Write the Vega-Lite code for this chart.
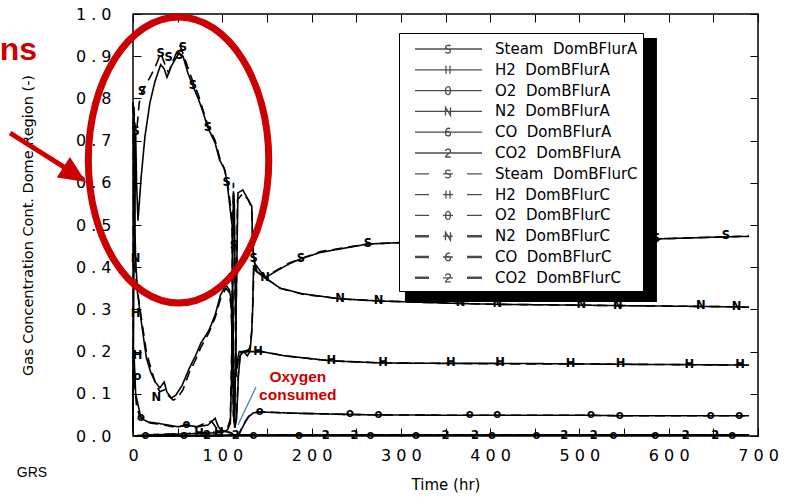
{
"$schema":"https://vega.github.io/schema/vega-lite/v6.json",
"width":625,"height":422,
"autosize":{"type":"none"},
"padding":{"left":133,"top":14,"right":32,"bottom":61},
"background":"white",
"config":{"view":{"stroke":"black","strokeWidth":1.5},
 "axis":{"domain":false,"grid":false,"tickColor":"black","tickSize":-8,"tickWidth":1,"labelColor":"black","labelFont":"DejaVu Sans","labelFontSize":16,"titleFont":"DejaVu Sans","titleFontWeight":"normal","titleColor":"black","labelFlush":false,"labelOverlap":false,"labelBound":false}},
"datasets":{
"lines":[
{"g":"Steam","c":"A","t":0,"v":0.01},{"g":"Steam","c":"A","t":1,"v":0.42},{"g":"Steam","c":"A","t":2,"v":0.5},{"g":"Steam","c":"A","t":3,"v":0.72},{"g":"Steam","c":"A","t":4,"v":0.6},{"g":"Steam","c":"A","t":5.6,"v":0.51},{"g":"Steam","c":"A","t":9,"v":0.61},{"g":"Steam","c":"A","t":13.4,"v":0.71},{"g":"Steam","c":"A","t":19,"v":0.79},{"g":"Steam","c":"A","t":24.6,"v":0.84},{"g":"Steam","c":"A","t":31,"v":0.88},{"g":"Steam","c":"A","t":35,"v":0.87},{"g":"Steam","c":"A","t":38,"v":0.85},{"g":"Steam","c":"A","t":42.5,"v":0.875},{"g":"Steam","c":"A","t":48,"v":0.895},{"g":"Steam","c":"A","t":51.5,"v":0.908},{"g":"Steam","c":"A","t":56,"v":0.9},{"g":"Steam","c":"A","t":61.5,"v":0.86},{"g":"Steam","c":"A","t":67,"v":0.83},{"g":"Steam","c":"A","t":73,"v":0.8},{"g":"Steam","c":"A","t":78,"v":0.77},{"g":"Steam","c":"A","t":84,"v":0.73},{"g":"Steam","c":"A","t":92,"v":0.694},{"g":"Steam","c":"A","t":97,"v":0.654},{"g":"Steam","c":"A","t":103,"v":0.63},{"g":"Steam","c":"A","t":106,"v":0.59},{"g":"Steam","c":"A","t":108.5,"v":0.543},{"g":"Steam","c":"A","t":111,"v":0.5},{"g":"Steam","c":"A","t":112,"v":0.3},{"g":"Steam","c":"A","t":113,"v":0.06},{"g":"Steam","c":"A","t":114,"v":0.03},{"g":"Steam","c":"A","t":115.5,"v":0.3},{"g":"Steam","c":"A","t":117.5,"v":0.576},{"g":"Steam","c":"A","t":123,"v":0.583},{"g":"Steam","c":"A","t":129,"v":0.56},{"g":"Steam","c":"A","t":133,"v":0.545},{"g":"Steam","c":"A","t":134,"v":0.45},{"g":"Steam","c":"A","t":136,"v":0.41},{"g":"Steam","c":"A","t":148,"v":0.375},{"g":"Steam","c":"A","t":160,"v":0.39},{"g":"Steam","c":"A","t":175,"v":0.408},{"g":"Steam","c":"A","t":188,"v":0.42},{"g":"Steam","c":"A","t":210,"v":0.435},{"g":"Steam","c":"A","t":263,"v":0.455},{"g":"Steam","c":"A","t":320,"v":0.46},{"g":"Steam","c":"A","t":400,"v":0.463},{"g":"Steam","c":"A","t":500,"v":0.466},{"g":"Steam","c":"A","t":586,"v":0.467},{"g":"Steam","c":"A","t":664,"v":0.472},{"g":"Steam","c":"A","t":690,"v":0.473},
{"g":"Steam","c":"C","t":0,"v":0.02},{"g":"Steam","c":"C","t":1,"v":0.78},{"g":"Steam","c":"C","t":2,"v":0.74},{"g":"Steam","c":"C","t":4,"v":0.72},{"g":"Steam","c":"C","t":7,"v":0.79},{"g":"Steam","c":"C","t":10,"v":0.815},{"g":"Steam","c":"C","t":14,"v":0.83},{"g":"Steam","c":"C","t":19,"v":0.85},{"g":"Steam","c":"C","t":25,"v":0.875},{"g":"Steam","c":"C","t":31,"v":0.907},{"g":"Steam","c":"C","t":36,"v":0.88},{"g":"Steam","c":"C","t":40,"v":0.86},{"g":"Steam","c":"C","t":45,"v":0.89},{"g":"Steam","c":"C","t":50,"v":0.915},{"g":"Steam","c":"C","t":53,"v":0.925},{"g":"Steam","c":"C","t":57,"v":0.9},{"g":"Steam","c":"C","t":62,"v":0.87},{"g":"Steam","c":"C","t":67,"v":0.84},{"g":"Steam","c":"C","t":73,"v":0.81},{"g":"Steam","c":"C","t":78,"v":0.775},{"g":"Steam","c":"C","t":84,"v":0.735},{"g":"Steam","c":"C","t":92,"v":0.7},{"g":"Steam","c":"C","t":97,"v":0.66},{"g":"Steam","c":"C","t":102,"v":0.635},{"g":"Steam","c":"C","t":106,"v":0.6},{"g":"Steam","c":"C","t":109,"v":0.55},{"g":"Steam","c":"C","t":111,"v":0.5},{"g":"Steam","c":"C","t":112.5,"v":0.2},{"g":"Steam","c":"C","t":113.5,"v":0.03},{"g":"Steam","c":"C","t":115,"v":0.2},{"g":"Steam","c":"C","t":117,"v":0.56},{"g":"Steam","c":"C","t":123,"v":0.575},{"g":"Steam","c":"C","t":129,"v":0.56},{"g":"Steam","c":"C","t":133,"v":0.54},{"g":"Steam","c":"C","t":134.5,"v":0.44},{"g":"Steam","c":"C","t":137,"v":0.4},{"g":"Steam","c":"C","t":148,"v":0.375},{"g":"Steam","c":"C","t":160,"v":0.392},{"g":"Steam","c":"C","t":175,"v":0.41},{"g":"Steam","c":"C","t":188,"v":0.42},{"g":"Steam","c":"C","t":210,"v":0.437},{"g":"Steam","c":"C","t":263,"v":0.455},{"g":"Steam","c":"C","t":320,"v":0.46},{"g":"Steam","c":"C","t":400,"v":0.463},{"g":"Steam","c":"C","t":500,"v":0.466},{"g":"Steam","c":"C","t":586,"v":0.467},{"g":"Steam","c":"C","t":664,"v":0.472},{"g":"Steam","c":"C","t":690,"v":0.474},
{"g":"N2","c":"A","t":0,"v":0.79},{"g":"N2","c":"A","t":1,"v":0.77},{"g":"N2","c":"A","t":2,"v":0.5},{"g":"N2","c":"A","t":3,"v":0.42},{"g":"N2","c":"A","t":5,"v":0.34},{"g":"N2","c":"A","t":10,"v":0.26},{"g":"N2","c":"A","t":15,"v":0.185},{"g":"N2","c":"A","t":20,"v":0.15},{"g":"N2","c":"A","t":25,"v":0.128},{"g":"N2","c":"A","t":30,"v":0.114},{"g":"N2","c":"A","t":35,"v":0.128},{"g":"N2","c":"A","t":38,"v":0.104},{"g":"N2","c":"A","t":43,"v":0.09},{"g":"N2","c":"A","t":48,"v":0.097},{"g":"N2","c":"A","t":55,"v":0.12},{"g":"N2","c":"A","t":63,"v":0.16},{"g":"N2","c":"A","t":70,"v":0.19},{"g":"N2","c":"A","t":76,"v":0.22},{"g":"N2","c":"A","t":85,"v":0.25},{"g":"N2","c":"A","t":92,"v":0.287},{"g":"N2","c":"A","t":98,"v":0.334},{"g":"N2","c":"A","t":104,"v":0.358},{"g":"N2","c":"A","t":108,"v":0.346},{"g":"N2","c":"A","t":110,"v":0.32},{"g":"N2","c":"A","t":111.5,"v":0.2},{"g":"N2","c":"A","t":112.5,"v":0.05},{"g":"N2","c":"A","t":114,"v":0.02},{"g":"N2","c":"A","t":116,"v":0.04},{"g":"N2","c":"A","t":118,"v":0.14},{"g":"N2","c":"A","t":120,"v":0.19},{"g":"N2","c":"A","t":124,"v":0.2},{"g":"N2","c":"A","t":128,"v":0.19},{"g":"N2","c":"A","t":131,"v":0.2},{"g":"N2","c":"A","t":133,"v":0.246},{"g":"N2","c":"A","t":134,"v":0.3},{"g":"N2","c":"A","t":135,"v":0.4},{"g":"N2","c":"A","t":138,"v":0.39},{"g":"N2","c":"A","t":148,"v":0.375},{"g":"N2","c":"A","t":165,"v":0.35},{"g":"N2","c":"A","t":190,"v":0.337},{"g":"N2","c":"A","t":232,"v":0.325},{"g":"N2","c":"A","t":275,"v":0.32},{"g":"N2","c":"A","t":367,"v":0.314},{"g":"N2","c":"A","t":408,"v":0.312},{"g":"N2","c":"A","t":502,"v":0.31},{"g":"N2","c":"A","t":543,"v":0.309},{"g":"N2","c":"A","t":636,"v":0.307},{"g":"N2","c":"A","t":676,"v":0.306},{"g":"N2","c":"A","t":690,"v":0.305},
{"g":"N2","c":"C","t":0,"v":0.79},{"g":"N2","c":"C","t":1,"v":0.55},{"g":"N2","c":"C","t":2,"v":0.4},{"g":"N2","c":"C","t":4,"v":0.36},{"g":"N2","c":"C","t":6,"v":0.33},{"g":"N2","c":"C","t":10,"v":0.27},{"g":"N2","c":"C","t":15,"v":0.2},{"g":"N2","c":"C","t":20,"v":0.16},{"g":"N2","c":"C","t":26,"v":0.12},{"g":"N2","c":"C","t":30,"v":0.105},{"g":"N2","c":"C","t":36,"v":0.11},{"g":"N2","c":"C","t":40,"v":0.095},{"g":"N2","c":"C","t":45,"v":0.085},{"g":"N2","c":"C","t":50,"v":0.09},{"g":"N2","c":"C","t":56,"v":0.11},{"g":"N2","c":"C","t":63,"v":0.15},{"g":"N2","c":"C","t":70,"v":0.18},{"g":"N2","c":"C","t":76,"v":0.21},{"g":"N2","c":"C","t":85,"v":0.245},{"g":"N2","c":"C","t":92,"v":0.28},{"g":"N2","c":"C","t":98,"v":0.325},{"g":"N2","c":"C","t":104,"v":0.35},{"g":"N2","c":"C","t":108,"v":0.34},{"g":"N2","c":"C","t":110,"v":0.3},{"g":"N2","c":"C","t":111.5,"v":0.18},{"g":"N2","c":"C","t":112.5,"v":0.05},{"g":"N2","c":"C","t":114,"v":0.02},{"g":"N2","c":"C","t":116,"v":0.05},{"g":"N2","c":"C","t":118,"v":0.15},{"g":"N2","c":"C","t":120,"v":0.19},{"g":"N2","c":"C","t":124,"v":0.2},{"g":"N2","c":"C","t":128,"v":0.2},{"g":"N2","c":"C","t":131,"v":0.21},{"g":"N2","c":"C","t":133,"v":0.25},{"g":"N2","c":"C","t":134.5,"v":0.33},{"g":"N2","c":"C","t":135.5,"v":0.41},{"g":"N2","c":"C","t":139,"v":0.39},{"g":"N2","c":"C","t":148,"v":0.375},{"g":"N2","c":"C","t":165,"v":0.35},{"g":"N2","c":"C","t":190,"v":0.336},{"g":"N2","c":"C","t":232,"v":0.325},{"g":"N2","c":"C","t":275,"v":0.32},{"g":"N2","c":"C","t":367,"v":0.314},{"g":"N2","c":"C","t":408,"v":0.312},{"g":"N2","c":"C","t":502,"v":0.31},{"g":"N2","c":"C","t":543,"v":0.309},{"g":"N2","c":"C","t":636,"v":0.307},{"g":"N2","c":"C","t":676,"v":0.306},{"g":"N2","c":"C","t":690,"v":0.305},
{"g":"H2","c":"A","t":0,"v":0},{"g":"H2","c":"A","t":20,"v":0.003},{"g":"H2","c":"A","t":60,"v":0.005},{"g":"H2","c":"A","t":100,"v":0.008},{"g":"H2","c":"A","t":106,"v":0.015},{"g":"H2","c":"A","t":109,"v":0.03},{"g":"H2","c":"A","t":110.5,"v":0.15},{"g":"H2","c":"A","t":111.5,"v":0.4},{"g":"H2","c":"A","t":112.5,"v":0.58},{"g":"H2","c":"A","t":113.5,"v":0.55},{"g":"H2","c":"A","t":114.5,"v":0.35},{"g":"H2","c":"A","t":115.5,"v":0.15},{"g":"H2","c":"A","t":117,"v":0.18},{"g":"H2","c":"A","t":119,"v":0.2},{"g":"H2","c":"A","t":124,"v":0.2},{"g":"H2","c":"A","t":130,"v":0.2},{"g":"H2","c":"A","t":136,"v":0.2},{"g":"H2","c":"A","t":144,"v":0.2},{"g":"H2","c":"A","t":170,"v":0.19},{"g":"H2","c":"A","t":222,"v":0.178},{"g":"H2","c":"A","t":280,"v":0.173},{"g":"H2","c":"A","t":356,"v":0.172},{"g":"H2","c":"A","t":411,"v":0.172},{"g":"H2","c":"A","t":490,"v":0.171},{"g":"H2","c":"A","t":546,"v":0.17},{"g":"H2","c":"A","t":623,"v":0.169},{"g":"H2","c":"A","t":680,"v":0.168},{"g":"H2","c":"A","t":690,"v":0.168},
{"g":"H2","c":"C","t":0,"v":0},{"g":"H2","c":"C","t":20,"v":0.003},{"g":"H2","c":"C","t":60,"v":0.006},{"g":"H2","c":"C","t":100,"v":0.01},{"g":"H2","c":"C","t":106,"v":0.02},{"g":"H2","c":"C","t":109,"v":0.04},{"g":"H2","c":"C","t":110.5,"v":0.2},{"g":"H2","c":"C","t":111.5,"v":0.45},{"g":"H2","c":"C","t":112.5,"v":0.6},{"g":"H2","c":"C","t":113.5,"v":0.5},{"g":"H2","c":"C","t":114.5,"v":0.3},{"g":"H2","c":"C","t":115.5,"v":0.14},{"g":"H2","c":"C","t":117,"v":0.17},{"g":"H2","c":"C","t":119,"v":0.195},{"g":"H2","c":"C","t":124,"v":0.2},{"g":"H2","c":"C","t":130,"v":0.205},{"g":"H2","c":"C","t":136,"v":0.2},{"g":"H2","c":"C","t":144,"v":0.2},{"g":"H2","c":"C","t":170,"v":0.19},{"g":"H2","c":"C","t":222,"v":0.178},{"g":"H2","c":"C","t":280,"v":0.173},{"g":"H2","c":"C","t":356,"v":0.172},{"g":"H2","c":"C","t":411,"v":0.171},{"g":"H2","c":"C","t":490,"v":0.171},{"g":"H2","c":"C","t":546,"v":0.17},{"g":"H2","c":"C","t":623,"v":0.169},{"g":"H2","c":"C","t":680,"v":0.168},{"g":"H2","c":"C","t":690,"v":0.168},
{"g":"O2","c":"A","t":0,"v":0.21},{"g":"O2","c":"A","t":1,"v":0.2},{"g":"O2","c":"A","t":2,"v":0.15},{"g":"O2","c":"A","t":3,"v":0.1},{"g":"O2","c":"A","t":5,"v":0.08},{"g":"O2","c":"A","t":9,"v":0.042},{"g":"O2","c":"A","t":17,"v":0.033},{"g":"O2","c":"A","t":28,"v":0.03},{"g":"O2","c":"A","t":39,"v":0.026},{"g":"O2","c":"A","t":50,"v":0.022},{"g":"O2","c":"A","t":61,"v":0.025},{"g":"O2","c":"A","t":73,"v":0.022},{"g":"O2","c":"A","t":84,"v":0.026},{"g":"O2","c":"A","t":92,"v":0.042},{"g":"O2","c":"A","t":95,"v":0.025},{"g":"O2","c":"A","t":98,"v":0.015},{"g":"O2","c":"A","t":102,"v":0.012},{"g":"O2","c":"A","t":106,"v":0.01},{"g":"O2","c":"A","t":110,"v":0.008},{"g":"O2","c":"A","t":113,"v":0.002},{"g":"O2","c":"A","t":118,"v":0},{"g":"O2","c":"A","t":120,"v":0.01},{"g":"O2","c":"A","t":125,"v":0.03},{"g":"O2","c":"A","t":129,"v":0.045},{"g":"O2","c":"A","t":135,"v":0.055},{"g":"O2","c":"A","t":142,"v":0.057},{"g":"O2","c":"A","t":180,"v":0.054},{"g":"O2","c":"A","t":243,"v":0.051},{"g":"O2","c":"A","t":275,"v":0.05},{"g":"O2","c":"A","t":377,"v":0.049},{"g":"O2","c":"A","t":408,"v":0.049},{"g":"O2","c":"A","t":513,"v":0.049},{"g":"O2","c":"A","t":545,"v":0.048},{"g":"O2","c":"A","t":647,"v":0.048},{"g":"O2","c":"A","t":679,"v":0.048},{"g":"O2","c":"A","t":690,"v":0.048},
{"g":"O2","c":"C","t":0,"v":0.21},{"g":"O2","c":"C","t":1,"v":0.18},{"g":"O2","c":"C","t":2,"v":0.12},{"g":"O2","c":"C","t":4,"v":0.07},{"g":"O2","c":"C","t":7,"v":0.05},{"g":"O2","c":"C","t":12,"v":0.038},{"g":"O2","c":"C","t":20,"v":0.03},{"g":"O2","c":"C","t":30,"v":0.028},{"g":"O2","c":"C","t":40,"v":0.024},{"g":"O2","c":"C","t":50,"v":0.02},{"g":"O2","c":"C","t":60,"v":0.028},{"g":"O2","c":"C","t":70,"v":0.02},{"g":"O2","c":"C","t":80,"v":0.03},{"g":"O2","c":"C","t":88,"v":0.035},{"g":"O2","c":"C","t":93,"v":0.02},{"g":"O2","c":"C","t":100,"v":0.012},{"g":"O2","c":"C","t":105,"v":0.01},{"g":"O2","c":"C","t":110,"v":0.006},{"g":"O2","c":"C","t":113,"v":0.001},{"g":"O2","c":"C","t":118,"v":0},{"g":"O2","c":"C","t":121,"v":0.015},{"g":"O2","c":"C","t":126,"v":0.035},{"g":"O2","c":"C","t":131,"v":0.05},{"g":"O2","c":"C","t":138,"v":0.056},{"g":"O2","c":"C","t":145,"v":0.057},{"g":"O2","c":"C","t":180,"v":0.054},{"g":"O2","c":"C","t":243,"v":0.051},{"g":"O2","c":"C","t":275,"v":0.05},{"g":"O2","c":"C","t":377,"v":0.049},{"g":"O2","c":"C","t":408,"v":0.049},{"g":"O2","c":"C","t":513,"v":0.049},{"g":"O2","c":"C","t":545,"v":0.048},{"g":"O2","c":"C","t":647,"v":0.048},{"g":"O2","c":"C","t":679,"v":0.048},{"g":"O2","c":"C","t":690,"v":0.048},
{"g":"CO","c":"A","t":0,"v":0},{"g":"CO","c":"A","t":100,"v":0.001},{"g":"CO","c":"A","t":115,"v":0.003},{"g":"CO","c":"A","t":140,"v":0.002},{"g":"CO","c":"A","t":690,"v":0.002},
{"g":"CO","c":"C","t":0,"v":0},{"g":"CO","c":"C","t":100,"v":0.001},{"g":"CO","c":"C","t":115,"v":0.003},{"g":"CO","c":"C","t":140,"v":0.002},{"g":"CO","c":"C","t":690,"v":0.002},
{"g":"CO2","c":"A","t":0,"v":0},{"g":"CO2","c":"A","t":110,"v":0.002},{"g":"CO2","c":"A","t":690,"v":0.003},
{"g":"CO2","c":"C","t":0,"v":0},{"g":"CO2","c":"C","t":110,"v":0.002},{"g":"CO2","c":"C","t":690,"v":0.003}
],
"marks":[
{"g":"Steam","t":3,"v":0.72},{"g":"Steam","t":10,"v":0.815},{"g":"Steam","t":31,"v":0.905},{"g":"Steam","t":40,"v":0.895},{"g":"Steam","t":52,"v":0.9},{"g":"Steam","t":56,"v":0.92},{"g":"Steam","t":67,"v":0.83},{"g":"Steam","t":84,"v":0.73},{"g":"Steam","t":105,"v":0.6},{"g":"Steam","t":113,"v":0.45},{"g":"Steam","t":135,"v":0.42},{"g":"Steam","t":188,"v":0.42},{"g":"Steam","t":263,"v":0.455},{"g":"Steam","t":586,"v":0.467},{"g":"Steam","t":664,"v":0.473},
{"g":"N2","t":3,"v":0.42},{"g":"N2","t":26,"v":0.09},{"g":"N2","t":148,"v":0.375},{"g":"N2","t":232,"v":0.325},{"g":"N2","t":275,"v":0.32},{"g":"N2","t":367,"v":0.314},{"g":"N2","t":408,"v":0.312},{"g":"N2","t":502,"v":0.31},{"g":"N2","t":543,"v":0.309},{"g":"N2","t":636,"v":0.307},{"g":"N2","t":676,"v":0.306},
{"g":"H2","t":3,"v":0.29},{"g":"H2","t":5,"v":0.19},{"g":"H2","t":74,"v":0.005},{"g":"H2","t":96,"v":0.006},{"g":"H2","t":140,"v":0.2},{"g":"H2","t":222,"v":0.178},{"g":"H2","t":280,"v":0.173},{"g":"H2","t":356,"v":0.172},{"g":"H2","t":411,"v":0.172},{"g":"H2","t":490,"v":0.171},{"g":"H2","t":546,"v":0.17},{"g":"H2","t":623,"v":0.169},{"g":"H2","t":680,"v":0.168},
{"g":"O2","t":5,"v":0.14},{"g":"O2","t":9,"v":0.042},{"g":"O2","t":60,"v":0.025},{"g":"O2","t":142,"v":0.057},{"g":"O2","t":243,"v":0.051},{"g":"O2","t":275,"v":0.05},{"g":"O2","t":377,"v":0.049},{"g":"O2","t":408,"v":0.049},{"g":"O2","t":513,"v":0.049},{"g":"O2","t":545,"v":0.048},{"g":"O2","t":647,"v":0.048},{"g":"O2","t":679,"v":0.048},
{"g":"CO","t":14,"v":0},{"g":"CO","t":57,"v":0},{"g":"CO","t":135,"v":0},{"g":"CO","t":186,"v":0},{"g":"CO","t":266,"v":0},{"g":"CO","t":317,"v":0},{"g":"CO","t":402,"v":0},{"g":"CO","t":452,"v":0},{"g":"CO","t":538,"v":0},{"g":"CO","t":585,"v":0},{"g":"CO","t":671,"v":0},
{"g":"CO2","t":83,"v":0},{"g":"CO2","t":115,"v":0},{"g":"CO2","t":216,"v":0},{"g":"CO2","t":248,"v":0},{"g":"CO2","t":350,"v":0},{"g":"CO2","t":383,"v":0},{"g":"CO2","t":483,"v":0},{"g":"CO2","t":516,"v":0},{"g":"CO2","t":619,"v":0},{"g":"CO2","t":652,"v":0}
],
"ann":[
{"k":"shadow","t":304.6,"t2":586.8,"v":0.943,"v2":0.3175},
{"k":"blue","t":137.7,"v":0.116,"t2":117.6,"v2":0.026},
{"k":"shaft","t":-137.7,"v":0.718,"t2":-70.5,"v2":0.628},
{"k":"ellipse","t":51,"v":0.654},
{"k":"head","t":-52.6,"v":0.602},
{"k":"oxy","t":184.6,"v":0.128,"txt":"Oxygen"},
{"k":"oxy","t":184.6,"v":0.085,"txt":"consumed"},
{"k":"ns","t":-107.5,"v":0.891,"txt":"ns"},
{"k":"grs","t":-113.1,"v":-0.0877,"txt":"GRS"}
]
},
"layer":[
{"data":{"name":"lines"},
 "mark":{"type":"line","color":"black","strokeWidth":1.6},
 "encoding":{
  "x":{"field":"t","type":"quantitative","scale":{"domain":[0,700],"nice":false,"zero":false},
   "axis":{"orient":"bottom","values":[0,50,100,150,200,250,300,350,400,450,500,550,600,650,700],"labelExpr":"datum.value % 100 === 0 ? join(split(format(datum.value,'d'),''),' ') : ''","labelPadding":19,"title":"Time (hr)","titleFontSize":15,"titlePadding":14}},
  "y":{"field":"v","type":"quantitative","scale":{"domain":[0,1],"nice":false,"zero":false},
   "axis":{"orient":"left","values":[0,0.1,0.2,0.3,0.4,0.5,0.6,0.7,0.8,0.9,1],"labelExpr":"join(split(format(datum.value,'.1f'),''),' ')","labelPadding":30,"title":"Gas Concentration Cont. Dome Region (-)","titleFontSize":14.5,"titlePadding":40}},
  "detail":[{"field":"g"},{"field":"c"}],
  "strokeDash":{"field":"c","type":"nominal","scale":{"domain":["A","C"],"range":[[1,0],[10,6]]},"legend":null}
 }},
{"data":{"name":"marks"},
 "transform":[{"calculate":"datum.g==='Steam'?'S':datum.g==='H2'?'H':datum.g==='N2'?'N':datum.g==='CO2'?'2':'o'","as":"glyph"}],
 "mark":{"type":"text","font":"DejaVu Sans","fontWeight":"bold","fontSize":11.5,"color":"black","baseline":"middle","align":"center"},
 "encoding":{
  "x":{"field":"t","type":"quantitative","axis":{"orient":"top","labels":false,"title":null,"values":[0,50,100,150,200,250,300,350,400,450,500,550,600,650,700]}},
  "y":{"field":"v","type":"quantitative","axis":{"orient":"right","labels":false,"title":null,"values":[0,0.1,0.2,0.3,0.4,0.5,0.6,0.7,0.8,0.9,1]}},
  "text":{"field":"glyph"}
 }},
{"data":{"name":"ann"},"transform":[{"filter":"datum.k==='shadow'"}],
 "mark":{"type":"rect","color":"black"},
 "encoding":{"x":{"field":"t","type":"quantitative","axis":null},"x2":{"field":"t2"},"y":{"field":"v","type":"quantitative","axis":null},"y2":{"field":"v2"}}},
{"data":{"name":"ann"},"transform":[{"filter":"datum.k==='blue'"}],
 "mark":{"type":"rule","color":"#4f81bd","strokeWidth":1.3},
 "encoding":{"x":{"field":"t","type":"quantitative","axis":null},"x2":{"field":"t2"},"y":{"field":"v","type":"quantitative","axis":null},"y2":{"field":"v2"}}},
{"data":{"name":"ann"},"transform":[{"filter":"datum.k==='shaft'"}],
 "mark":{"type":"rule","color":"#cc0000","strokeWidth":5},
 "encoding":{"x":{"field":"t","type":"quantitative","axis":null},"x2":{"field":"t2"},"y":{"field":"v","type":"quantitative","axis":null},"y2":{"field":"v2"}}},
{"data":{"name":"ann"},"transform":[{"filter":"datum.k==='ellipse'"}],
 "mark":{"type":"point","shape":"M-0.631,0A0.631,1,0,1,0,0.631,0A0.631,1,0,1,0,-0.631,0Z","size":81796,"filled":false,"color":"#cc0000","strokeWidth":7,"opacity":1},
 "encoding":{"x":{"field":"t","type":"quantitative","axis":null},"y":{"field":"v","type":"quantitative","axis":null}}},
{"data":{"name":"ann"},"transform":[{"filter":"datum.k==='head'"}],
 "mark":{"type":"point","shape":"M0,0L-1,-0.45L-1,0.45Z","size":2916,"filled":true,"color":"#cc0000","strokeWidth":0,"angle":32.8,"opacity":1},
 "encoding":{"x":{"field":"t","type":"quantitative","axis":null},"y":{"field":"v","type":"quantitative","axis":null}}},
{"data":{"name":"ann"},"transform":[{"filter":"datum.k==='oxy'"}],
 "mark":{"type":"text","font":"Liberation Sans","fontWeight":"bold","fontSize":15.5,"color":"#cc0000","align":"center","baseline":"alphabetic"},
 "encoding":{"x":{"field":"t","type":"quantitative","axis":null},"y":{"field":"v","type":"quantitative","axis":null},"text":{"field":"txt"}}},
{"data":{"name":"ann"},"transform":[{"filter":"datum.k==='ns'"}],
 "mark":{"type":"text","font":"Liberation Sans","fontWeight":"bold","fontSize":32,"color":"#cc0000","align":"right","baseline":"alphabetic"},
 "encoding":{"x":{"field":"t","type":"quantitative","axis":null},"y":{"field":"v","type":"quantitative","axis":null},"text":{"field":"txt"}}},
{"data":{"name":"ann"},"transform":[{"filter":"datum.k==='grs'"}],
 "mark":{"type":"text","font":"Liberation Sans","fontSize":14,"color":"black","align":"center","baseline":"middle"},
 "encoding":{"x":{"field":"t","type":"quantitative","axis":null},"y":{"field":"v","type":"quantitative","axis":null},"text":{"field":"txt"}}},
{"data":{"name":"ann"},"transform":[{"filter":"false"}],
 "mark":{"type":"point","filled":false,"color":"black","strokeWidth":1.3},
 "encoding":{"x":{"field":"t","type":"quantitative","axis":null},"y":{"field":"v","type":"quantitative","axis":null},
  "shape":{"field":"s","type":"nominal",
   "scale":{"domain":["Steam DomBFlurA","H2 DomBFlurA","O2 DomBFlurA","N2 DomBFlurA","CO DomBFlurA","CO2 DomBFlurA","Steam DomBFlurC","H2 DomBFlurC","O2 DomBFlurC","N2 DomBFlurC","CO DomBFlurC","CO2 DomBFlurC"],
    "range":[
     "M0,0H6.7M3.55,-0.28C3.45,-0.42 3.05,-0.42 3.05,-0.18C3.05,0.02 3.55,-0.02 3.55,0.2C3.55,0.45 3.1,0.45 3.03,0.3",
     "M0,0H6.7M3.1,-0.4V0.4M3.5,-0.4V0.4",
     "M0,0H6.7M3.3,-0.4C3.62,-0.4 3.62,0.4 3.3,0.4C2.98,0.4 2.98,-0.4 3.3,-0.4Z",
     "M0,0H6.7M3.05,0.4V-0.4L3.55,0.4V-0.4",
     "M0,0H6.7M3.52,-0.36C3.2,-0.5 3.02,-0.15 3.05,0.12C3.08,0.45 3.55,0.45 3.55,0.12C3.55,-0.15 3.08,-0.12 3.05,0.12",
     "M0,0H6.7M3.05,-0.2C3.1,-0.45 3.55,-0.45 3.55,-0.16C3.55,0.05 3.05,0.2 3.05,0.4H3.57",
     "M0,0H1.4M2.8,0H3.8M5.2,0H6.7M3.55,-0.28C3.45,-0.42 3.05,-0.42 3.05,-0.18C3.05,0.02 3.55,-0.02 3.55,0.2C3.55,0.45 3.1,0.45 3.03,0.3",
     "M0,0H1.4M2.8,0H3.8M5.2,0H6.7M3.1,-0.4V0.4M3.5,-0.4V0.4",
     "M0,0H1.4M2.8,0H3.8M5.2,0H6.7M3.3,-0.4C3.62,-0.4 3.62,0.4 3.3,0.4C2.98,0.4 2.98,-0.4 3.3,-0.4Z",
     "M0,-0.06H1.4M0,0.06H1.4M2.8,0H3.8M5.2,-0.06H6.7M5.2,0.06H6.7M3.05,0.4V-0.4L3.55,0.4V-0.4",
     "M0,-0.06H1.4M0,0.06H1.4M2.8,0H3.8M5.2,-0.06H6.7M5.2,0.06H6.7M3.52,-0.36C3.2,-0.5 3.02,-0.15 3.05,0.12C3.08,0.45 3.55,0.45 3.55,0.12C3.55,-0.15 3.08,-0.12 3.05,0.12",
     "M0,-0.06H1.4M0,0.06H1.4M2.8,0H3.8M5.2,-0.06H6.7M5.2,0.06H6.7M3.05,-0.2C3.1,-0.45 3.55,-0.45 3.55,-0.16C3.55,0.05 3.05,0.2 3.05,0.4H3.57"
    ]},
   "legend":{"orient":"none","legendX":266,"legendY":19,"title":null,"fillColor":"white","strokeColor":"black","padding":5,"labelFont":"DejaVu Sans","labelFontSize":15,"labelColor":"black","symbolSize":400,"symbolStrokeColor":"black","symbolFillColor":"transparent","symbolStrokeWidth":1.3,"labelOffset":69,"rowPadding":1.8,"labelLimit":300,"labelExpr":"replace(datum.label,' ','\u00a0\u00a0')"}}
 }}
],
"resolve":{"axis":{"x":"independent","y":"independent"}}
}
